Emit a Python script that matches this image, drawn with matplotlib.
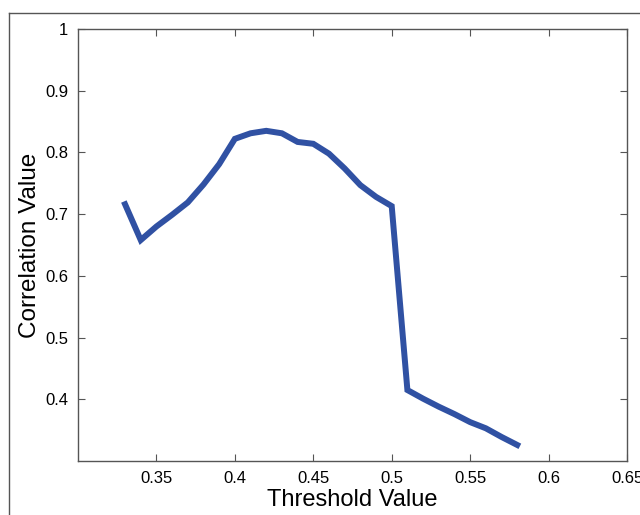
import numpy as np
import matplotlib
matplotlib.use('Agg')
import matplotlib.pyplot as plt
from matplotlib.lines import Line2D

plt.rcParams['font.family'] = ['Liberation Sans', 'DejaVu Sans']

# values
threshold = [0.33, 0.34, 0.35, 0.36, 0.37, 0.38, 0.39, 0.40, 0.41, 0.42, 0.43,
             0.44, 0.45, 0.46, 0.47, 0.48, 0.49, 0.50, 0.51, 0.52, 0.53, 0.54,
             0.55, 0.56, 0.57, 0.58]
correlation = [0.716, 0.658, 0.680, 0.699, 0.719, 0.748, 0.781, 0.822, 0.831, 0.835, 0.831,
               0.817, 0.814, 0.798, 0.774, 0.747, 0.728, 0.713, 0.415, 0.401, 0.388, 0.376,
               0.363, 0.353, 0.339, 0.326]

xticks = [0.35, 0.4, 0.45, 0.5, 0.55, 0.6, 0.65]
xticklabels = ['0.35', '0.4', '0.45', '0.5', '0.55', '0.6', '0.65']
yticks = [0.4, 0.5, 0.6, 0.7, 0.8, 0.9, 1.0]
yticklabels = ['0.4', '0.5', '0.6', '0.7', '0.8', '0.9', '1']

fig = plt.figure(figsize=(6.4, 5.15), dpi=100)
ax = fig.add_axes([78/640, 1 - 461/515, (627-78)/640, (461-29)/515])

ax.plot(threshold, correlation, color='#3051a3', lw=4.3, solid_joinstyle='miter')

ax.set_xlim(0.3, 0.65)
ax.set_ylim(0.3, 1.0)
ax.set_xticks(xticks)
ax.set_xticklabels(xticklabels)
ax.set_yticks(yticks)
ax.set_yticklabels(yticklabels)
ax.tick_params(direction='in', length=5, width=0.8, color='#555555',
               labelsize=12, top=True, right=True, pad=7, labelcolor='black')
for s in ax.spines.values():
    s.set_color('#555555')
    s.set_linewidth(1.0)

ax.set_xlabel('Threshold Value', fontsize=17, labelpad=2)
ax.set_ylabel('Correlation Value', fontsize=17.5, labelpad=3)

# outer frame of the original figure
fig.add_artist(Line2D([9/640, 9/640], [0, 1 - 13/515], transform=fig.transFigure,
                      color='#555555', lw=1.0))
fig.add_artist(Line2D([9/640, 1], [1 - 13/515, 1 - 13/515], transform=fig.transFigure,
                      color='#555555', lw=1.0))

fig.savefig('out.png', dpi=100)
